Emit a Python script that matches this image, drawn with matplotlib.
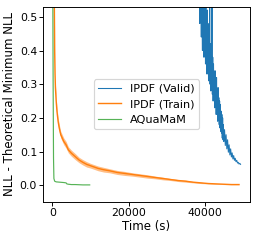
import numpy as np
from matplotlib import pyplot as plt

# IPDF validation curve (noisy)
valid_t = list(range(38400, 45001, 100)) + list(range(45200, 49401, 200))
valid_nll = [0.80, 0.55, 0.72, 0.48, 0.85, 0.52, 0.66, 0.44, 0.70, 0.50,
             0.40, 0.64, 0.46, 0.58, 0.38, 0.60, 0.42, 0.55, 0.36, 0.62,
             0.40, 0.48, 0.33, 0.52, 0.38, 0.45, 0.31, 0.48, 0.34, 0.58,
             0.30, 0.42, 0.28, 0.40, 0.32, 0.56, 0.27, 0.38, 0.25, 0.36,
             0.28, 0.33, 0.23, 0.34, 0.24, 0.30, 0.21, 0.32, 0.22, 0.28,
             0.19, 0.29, 0.20, 0.26, 0.18, 0.25, 0.17, 0.24, 0.16, 0.22,
             0.155, 0.21, 0.14, 0.20, 0.135, 0.18, 0.13,
             0.165, 0.118, 0.15, 0.108, 0.135, 0.098, 0.12, 0.09, 0.108, 0.084,
             0.096, 0.078, 0.088, 0.074, 0.08, 0.07, 0.074, 0.066, 0.068, 0.063,
             0.065, 0.062]

# IPDF training curve: centre line and the spread of the noise band
train_t = [500, 600, 700, 800, 1000, 1200, 1500, 1800, 2200, 2600, 3000, 3600,
           4200, 5000, 6000, 7000, 8000, 9000, 10000, 11000, 12000, 13500,
           15000, 17000, 19000, 21000, 23000, 25000, 27000, 29000, 31000, 33000,
           35000, 37000, 39000, 41000, 43000, 45000, 47000, 49000]
train_nll = [0.56, 0.40, 0.33, 0.29, 0.25, 0.22, 0.19, 0.17, 0.15, 0.14, 0.13, 0.12,
             0.105, 0.095, 0.085, 0.075, 0.068, 0.062, 0.058, 0.054, 0.05, 0.046,
             0.043, 0.038, 0.035, 0.032, 0.029, 0.026, 0.023, 0.02, 0.017, 0.014,
             0.012, 0.009, 0.007, 0.005, 0.004, 0.003, 0.002, 0.002]
train_spread = [0.012, 0.012, 0.012, 0.012, 0.012, 0.011, 0.011, 0.011, 0.010, 0.010, 0.010, 0.010,
                0.009, 0.009, 0.009, 0.008, 0.008, 0.008, 0.007, 0.007, 0.007, 0.007,
                0.006, 0.006, 0.006, 0.005, 0.005, 0.005, 0.004, 0.004, 0.003, 0.003,
                0.003, 0.002, 0.002, 0.001, 0.001, 0.001, 0.0005, 0.0005]

# AQuaMaM curve
aq_t = [0, 100, 200, 300, 400, 600, 1000, 2000, 3000, 3600, 3800, 4200, 5000,
        6000, 7000, 8000, 9000, 9800]
aq_nll = [0.9, 0.6, 0.3, 0.08, 0.02, 0.012, 0.01, 0.009, 0.008, 0.007, 0.004,
          0.003, 0.002, 0.002, 0.0015, 0.001, 0.001, 0.001]

fig = plt.figure(figsize=(262 / 85, 240 / 85), dpi=85)
ax = fig.add_axes([0.164, 0.158, 0.79, 0.814])

ax.plot(valid_t, valid_nll, color="tab:blue", lw=0.9, label="IPDF (Valid)")
lo = np.array(train_nll) - np.array(train_spread)
hi = np.array(train_nll) + np.array(train_spread)
ax.fill_between(train_t, lo, hi, color="tab:orange", alpha=0.5, lw=0)
ax.plot(train_t, train_nll, color="tab:orange", lw=1.2, label="IPDF (Train)")
ax.plot(aq_t, aq_nll, color="tab:green", lw=1.0, alpha=0.8, label="AQuaMaM")

ax.set_ylim(-0.05, 0.53)
ax.set_yticks([0.0, 0.1, 0.2, 0.3, 0.4, 0.5])
ax.set_xticks([0, 20000, 40000])
ax.tick_params(labelsize=9.2, pad=1.5)
ax.set_xlabel("Time (s)", fontsize=10, labelpad=1.5)
ax.set_ylabel("NLL - Theoretical Minimum NLL", fontsize=10, labelpad=2.8)
ax.legend(loc="center", fontsize=9.5)

fig.savefig("out.png")
